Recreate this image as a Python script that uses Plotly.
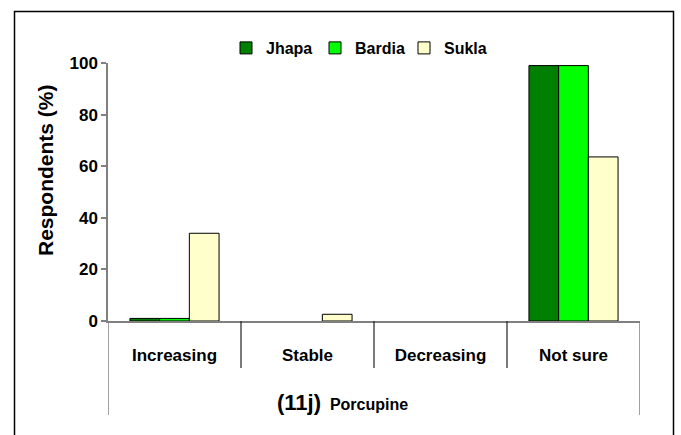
import plotly.graph_objects as go

categories = ["Increasing", "Stable", "Decreasing", "Not sure"]
series_names = ["Jhapa", "Bardia", "Sukla"]
jhapa = [1, 0, 0, 99]
bardia = [1, 0, 0, 99]
sukla = [34, 2.6, 0, 63.6]
y_ticks = [0, 20, 40, 60, 80, 100]
group_label_bold = "(11j)"
group_label_rest = "Porcupine"
y_title = "Respondents (%)"

colors = ["#008000", "#00FF00", "#FFFFCC"]
FONT = "Liberation Sans, Arial, sans-serif"

fig = go.Figure()
for name, vals, col in zip(series_names, [jhapa, bardia, sukla], colors):
    fig.add_trace(go.Bar(
        x=categories, y=vals, name=name,
        marker=dict(color=col,
                    line=dict(color="#000000", width=[1 if v > 0 else 0 for v in vals])),
    ))

# plot geometry helpers (paper units)
L, R, T, B = 108, 41, 63, 114
W, H = 681, 435
pw, ph = W - L - R, H - T - B

def py(pix):
    return (H - B - pix) / ph

def px(pix):
    return (pix - L) / pw

shapes = []
# inner category separators at category boundaries
for i in range(len(categories) - 1):
    shapes.append(dict(type="line", xref="x", yref="paper", x0=i + 0.5, x1=i + 0.5,
                       y0=0, y1=py(368), line=dict(color="#222222", width=1.2)))
# outer group edges
for xe in [-0.5, len(categories) - 0.5]:
    shapes.append(dict(type="line", xref="x", yref="paper", x0=xe, x1=xe,
                       y0=0, y1=py(415), line=dict(color="#808080", width=1.5)))
# outer frame
shapes.append(dict(type="rect", xref="paper", yref="paper",
                   x0=px(14.5), x1=px(673.5), y0=py(11.5), y1=py(445),
                   line=dict(color="#000000", width=1.5), fillcolor="rgba(0,0,0,0)"))

annotations = [
    dict(text=y_title, xref="paper", yref="paper", x=px(45), y=py(170),
         textangle=-90, showarrow=False, xanchor="center", yanchor="middle",
         font=dict(family=FONT, size=21, color="#000000", weight="bold")),
    dict(text=f"<span style='font-size:22px'>{group_label_bold}</span>  {group_label_rest}",
         xref="paper", yref="paper", x=px(275), y=py(402), showarrow=False,
         xanchor="left", yanchor="middle",
         font=dict(family=FONT, size=16, color="#000000", weight="bold")),
]

fig.update_layout(
    width=W, height=H,
    margin=dict(l=L, r=R, t=T, b=B, pad=0),
    paper_bgcolor="white", plot_bgcolor="white",
    barmode="group", bargap=0.33, bargroupgap=0,
    showlegend=True,
    legend=dict(orientation="h", x=px(226), y=py(31), xanchor="left", yanchor="top",
                font=dict(family=FONT, size=16, color="#000000", weight="bold"),
                bgcolor="rgba(0,0,0,0)", traceorder="normal",
                itemwidth=30, entrywidth=44, entrywidthmode="pixels"),
    xaxis=dict(type="category", categoryorder="array", categoryarray=categories,
               range=[-0.5, len(categories) - 0.5],
               showline=True, linecolor="#808080", linewidth=1.5,
               ticks="", showgrid=False, zeroline=False,
               ticklabelstandoff=18,
               tickfont=dict(family=FONT, size=17, color="#000000", weight="bold")),
    yaxis=dict(range=[0, 100], tickvals=y_ticks,
               showline=True, linecolor="#808080", linewidth=1.5,
               ticks="outside", ticklen=5, tickcolor="#808080", tickwidth=1.5,
               showgrid=False, zeroline=False,
               tickfont=dict(family=FONT, size=17, color="#000000", weight="bold")),
    shapes=shapes,
    annotations=annotations,
)

fig.write_html("out.html", config={"displayModeBar": False},
               post_script="document.body.style.margin='0';")
